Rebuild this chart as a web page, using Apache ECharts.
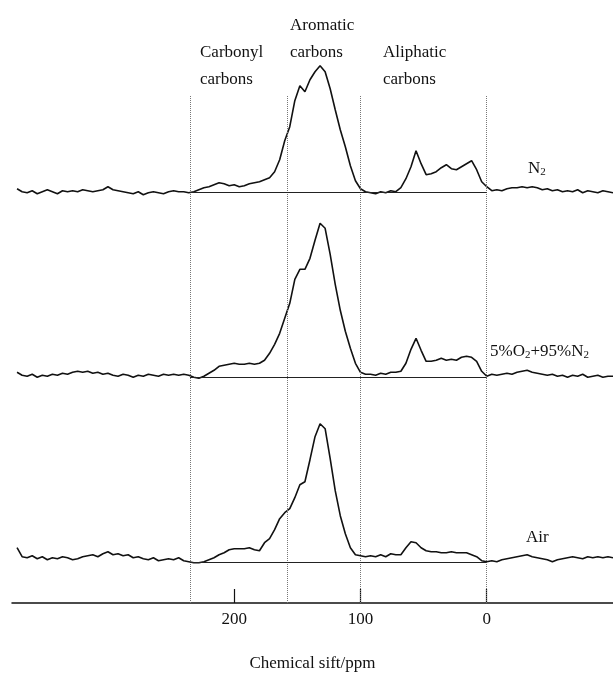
<!DOCTYPE html>
<html>
<head>
<meta charset="utf-8">
<script src="https://cdn.jsdelivr.net/npm/echarts@6/dist/echarts.min.js"></script>
<style>
  html, body { margin: 0; padding: 0; background: #fff; }
  #chart { width: 613px; height: 678px; }
</style>
</head>
<body>
<div id="chart"></div>
<script>
// chemical shift grid, 372 -> -100 ppm, step 4
var ppm = [];
for (var p = 372; p >= -100; p -= 4) ppm.push(p);

// intensities (baseline = 0)
var n2 = [
  4, 1, 0, 2, -1, 1, 3, 1, -1, 2,
  1, 2, 1, 3, 2, 1, 2, 3, 6, 3,
  2, 1, 0, -1, 1, -2, 0, 1, 0, -1,
  1, 2, 1, 1, 0, 1, 3, 5, 6, 8,
  10, 9, 7, 8, 6, 7, 9, 10, 11, 13,
  15, 21, 33, 52, 66, 92, 107, 101, 113, 121,
  127, 121, 104, 83, 63, 46, 27, 12, 4, 1,
  0, -1, 1, 0, 2, 1, 5, 14, 26, 42,
  29, 18, 19, 21, 25, 28, 24, 23, 26, 29,
  32, 23, 11, 6, 2, 3, 2, 4, 5, 5,
  6, 5, 6, 5, 3, 4, 2, 3, 1, 2,
  1, 3, 0, 2, 1, 0, 2, 1, 0
];
var o2n2 = [
  5, 2, 1, 3, 0, 2, 1, 3, 2, 4,
  3, 5, 6, 5, 6, 4, 5, 3, 4, 2,
  1, 3, 2, 0, 2, 1, 3, 2, 1, 3,
  2, 3, 2, 3, 2, 0, -1, 1, 4, 7,
  11, 12, 13, 14, 13, 13, 14, 13, 14, 17,
  24, 33, 44, 59, 74, 98, 108, 108, 119, 137,
  154, 149, 123, 93, 67, 46, 29, 14, 5, 3,
  3, 2, 4, 3, 5, 5, 6, 14, 28, 39,
  27, 16, 16, 17, 19, 17, 18, 17, 20, 21,
  20, 16, 6, 1, 3, 2, 3, 4, 3, 5,
  6, 7, 5, 4, 3, 2, 3, 1, 2, 0,
  2, 1, 3, 0, 1, 2, 0, 1, 1
];
var air = [
  15, 6, 5, 7, 4, 6, 3, 5, 4, 6,
  5, 3, 4, 6, 7, 8, 6, 9, 11, 8,
  9, 7, 8, 5, 6, 4, 3, 5, 2, 3,
  4, 3, 5, 2, 1, 0, 0, 1, 3, 5,
  8, 10, 13, 14, 14, 14, 15, 13, 12, 20,
  24, 33, 44, 50, 54, 65, 78, 81, 103, 126,
  139, 134, 104, 72, 47, 29, 15, 8, 7, 6,
  7, 6, 8, 6, 9, 8, 8, 15, 21, 20,
  15, 12, 11, 11, 10, 10, 11, 10, 10, 10,
  8, 6, 2, 1, 2, 1, 3, 4, 5, 6,
  7, 8, 6, 5, 4, 3, 1, 3, 4, 5,
  6, 5, 4, 6, 5, 6, 5, 6, 5
];

var tickValues = [200, 100, 0];
var regionEdges = [235, 158, 100, 0];
var baselineRange = [235, 0];

function pairs(vals) {
  return ppm.map(function (x, i) { return [x, vals[i]]; });
}

// pixel row of each trace's baseline
var gridTop = 95, axisY = 603;
function yAxisFor(baseY) {
  return {
    type: 'value', show: false,
    min: -(axisY - baseY), max: baseY - gridTop,
    splitLine: { show: false }
  };
}

function baseline() {
  return {
    silent: true, symbol: 'none', label: { show: false },
    lineStyle: { color: '#222', width: 1, type: 'solid' },
    data: [[{ coord: [baselineRange[0], 0] }, { coord: [baselineRange[1], 0] }]]
  };
}

var font = 'Liberation Serif';
var myChart = echarts.init(document.getElementById('chart'));
myChart.setOption({
  animation: false,
  backgroundColor: '#fff',
  textStyle: { fontFamily: font, color: '#111' },
  grid: { left: 12, right: 0, top: gridTop, bottom: 678 - axisY },
  xAxis: {
    type: 'value', inverse: true, min: -100, max: 376,
    name: 'Chemical sift/ppm', nameLocation: 'middle', nameGap: 52,
    nameTextStyle: { fontFamily: font, fontSize: 17, color: '#111' },
    axisLine: { onZero: false, lineStyle: { color: '#111', width: 1.5 } },
    axisTick: { inside: true, length: 14, customValues: tickValues, lineStyle: { color: '#111', width: 1.2 } },
    axisLabel: { customValues: tickValues, margin: 8, fontFamily: font, fontSize: 17, color: '#111' },
    splitLine: { show: false }
  },
  yAxis: [yAxisFor(192.7), yAxisFor(377.3), yAxisFor(562.7)],
  series: [
    {
      name: 'N2', type: 'line', yAxisIndex: 0, data: pairs(n2), clip: false,
      showSymbol: false, lineStyle: { color: '#111', width: 1.6 },
      markLine: {
        silent: true, symbol: 'none', label: { show: false },
        lineStyle: { color: '#777', width: 1, type: 'dotted' },
        data: regionEdges.map(function (v) { return { xAxis: v }; })
      }
    },
    {
      name: 'N2 base', type: 'line', yAxisIndex: 0, data: [], markLine: baseline()
    },
    {
      name: '5%O2+95%N2', type: 'line', yAxisIndex: 1, data: pairs(o2n2), clip: false,
      showSymbol: false, lineStyle: { color: '#111', width: 1.6 }, markLine: baseline()
    },
    {
      name: 'Air', type: 'line', yAxisIndex: 2, data: pairs(air), clip: false,
      showSymbol: false, lineStyle: { color: '#111', width: 1.6 }, markLine: baseline()
    }
  ],
  graphic: [
    { type: 'text', left: 290, top: 12, style: { text: 'Aromatic\ncarbons', font: '17px "Liberation Serif"', lineHeight: 27, fill: '#111' } },
    { type: 'text', left: 200, top: 39, style: { text: 'Carbonyl\ncarbons', font: '17px "Liberation Serif"', lineHeight: 27, fill: '#111' } },
    { type: 'text', left: 383, top: 39, style: { text: 'Aliphatic\ncarbons', font: '17px "Liberation Serif"', lineHeight: 27, fill: '#111' } },
    { type: 'text', left: 528, top: 160, style: { text: 'N{s|2}', font: '17px "Liberation Serif"', fill: '#111',
      rich: { s: { fontSize: 11, fontFamily: font, verticalAlign: 'bottom', padding: [8, 0, 0, 0] } } } },
    { type: 'text', left: 490, top: 343, style: { text: '5%O{s|2}+95%N{s|2}', font: '17px "Liberation Serif"', fill: '#111',
      rich: { s: { fontSize: 11, fontFamily: font, verticalAlign: 'bottom', padding: [8, 0, 0, 0] } } } },
    { type: 'text', left: 526, top: 529, style: { text: 'Air', font: '17px "Liberation Serif"', fill: '#111' } }
  ]
});
</script>
</body>
</html>
